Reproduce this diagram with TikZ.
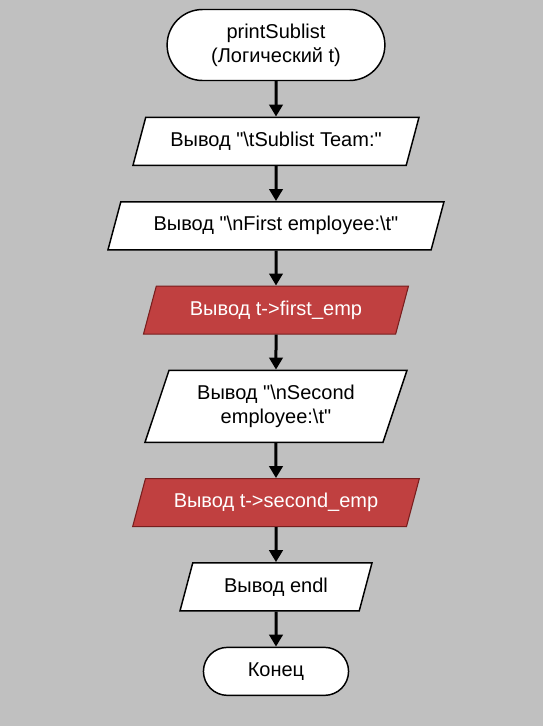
\documentclass[tikz,border=0pt]{standalone}
\usepackage{fontspec}
\setmainfont{Liberation Sans}
\usetikzlibrary{arrows.meta, positioning, shapes.geometric, shapes.misc}

\definecolor{bggray}{RGB}{192,192,192}
\definecolor{outred}{RGB}{192,64,64}
\definecolor{outredline}{RGB}{120,30,30}

\newcommand{\dq}{\textquotedbl}
\newcommand{\bs}{\textbackslash}

\begin{document}
\begin{tikzpicture}[
  terminal/.style={
    rounded rectangle,
    draw,
    line width=1.1pt,
    align=center,
    fill=white
  },
  io/.style={
    trapezium,
    trapezium left angle=65,
    trapezium right angle=115,
    trapezium stretches body,
    draw,
    line width=1.1pt,
    minimum height=36pt,
    align=center,
    fill=white
  },
  iored/.style={
    io,
    draw=outredline,
    line width=0.8pt,
    fill=outred,
    text=white
  },
  every node/.style={font=\fontsize{15}{18}\selectfont},
  arrow/.style={-{Triangle[length=9pt, width=10pt]}, line width=2.25pt}
]

% background
\fill[bggray] (-207pt,33.75pt) rectangle (200.25pt,-510.75pt);

% ============================================================
% Flow
% ============================================================

\node[terminal, minimum width=170pt, minimum height=53.25pt] (start) {printSublist\\(Логический t)};

\node[io, minimum width=214.5pt, below=26.5pt of start] (team) {Вывод \dq\bs tSublist Team:\dq};
\node[io, minimum width=252pt, below=26.25pt of team] (first) {Вывод \dq\bs nFirst employee:\bs t\dq};
\node[iored, minimum width=198.75pt, below=26.25pt of first] (firstemp) {Вывод t->first\_emp};
\node[io, minimum width=196.5pt, minimum height=54pt, below=26.25pt of firstemp] (second) {Вывод \dq\bs nSecond\\employee:\bs t\dq};
\node[iored, minimum width=215pt, below=26.25pt of second] (secondemp) {Вывод t->second\_emp};
\node[io, minimum width=144pt, below=26.25pt of secondemp] (endl) {Вывод endl};

\node[terminal, minimum width=115.5pt, minimum height=36pt, below=26.25pt of endl] (stop) {Конец};

\draw[arrow] (start) -- (team);
\draw[arrow] (team) -- (first);
\draw[arrow] (first) -- (firstemp);
\draw[arrow] (firstemp) -- (second);
\draw[arrow] (second) -- (secondemp);
\draw[arrow] (secondemp) -- (endl);
\draw[arrow] (endl) -- (stop);

\end{tikzpicture}
\end{document}
